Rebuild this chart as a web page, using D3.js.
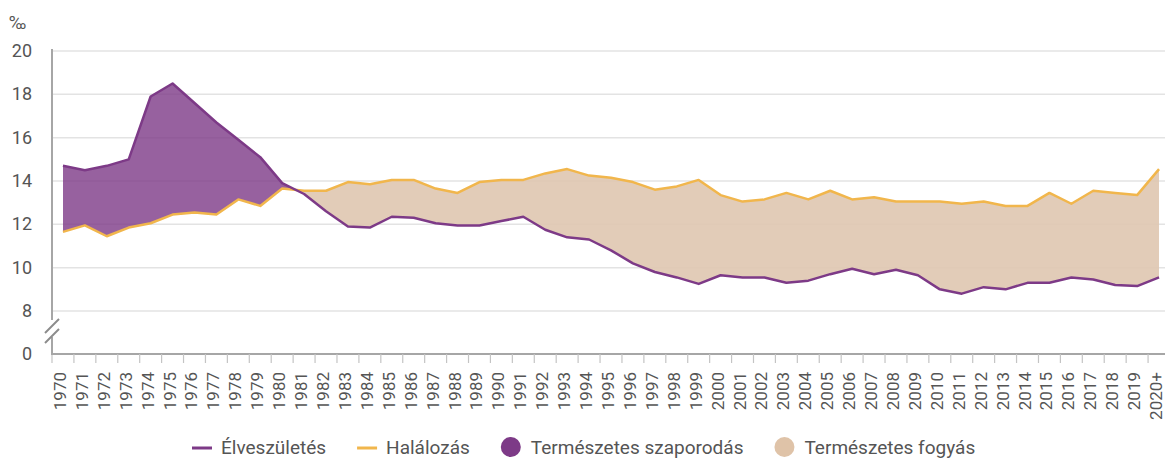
<!DOCTYPE html>
<html>
<head>
<meta charset="utf-8">
<script src="https://cdn.jsdelivr.net/npm/d3@7"></script>
<style>
  body { margin: 0; background: #fff; }
  text { font-family: Roboto, "Noto Sans", sans-serif; fill: #555; }
</style>
</head>
<body>
<svg id="chart" width="1165" height="459"></svg>
<script>
// years and tick labels
var years = d3.range(1970, 2021);
var yearLabels = years.map(function(y) { return y == 2020 ? "2020+" : String(y); });

// per mille values
var births = [14.7, 14.5, 14.7, 15.0, 17.9, 18.5, 17.6, 16.7, 15.9, 15.1,
	13.9, 13.4, 12.6, 11.9, 11.85, 12.35, 12.3, 12.05, 11.95, 11.95,
	12.15, 12.35, 11.75, 11.4, 11.3, 10.8, 10.2, 9.8, 9.55, 9.25,
	9.65, 9.55, 9.55, 9.3, 9.4, 9.7, 9.95, 9.7, 9.9, 9.65,
	9.0, 8.8, 9.1, 9.0, 9.3, 9.3, 9.55, 9.45, 9.2, 9.15,
	9.55];
var deaths = [11.65, 11.95, 11.45, 11.85, 12.05, 12.45, 12.55, 12.45, 13.15, 12.85,
	13.65, 13.55, 13.55, 13.95, 13.85, 14.05, 14.05, 13.65, 13.45, 13.95,
	14.05, 14.05, 14.35, 14.55, 14.25, 14.15, 13.95, 13.6, 13.75, 14.05,
	13.35, 13.05, 13.15, 13.45, 13.15, 13.55, 13.15, 13.25, 13.05, 13.05,
	13.05, 12.95, 13.05, 12.85, 12.85, 13.45, 12.95, 13.55, 13.45, 13.35,
	14.55];
var yTicks = [0, 8, 10, 12, 14, 16, 18, 20];

var legendItems = [
	{ label: "Élveszületés", type: "line", color: "#7d3a87" },
	{ label: "Halálozás", type: "line", color: "#f1b64c" },
	{ label: "Természetes szaporodás", type: "dot", color: "#7d3a87" },
	{ label: "Természetes fogyás", type: "dot", color: "#dfc3a8" }
];

var W = 1165, H = 459;
var svg = d3.select("#chart");

var x = d3.scaleBand().domain(yearLabels).range([52, 1170]);
var xc = function(i) { return x(yearLabels[i]) + x.bandwidth() / 2; };
// broken axis: 0 then jump to 8
var y = d3.scaleLinear().domain([0, 8, 20]).range([354, 311, 51]);

var rows = years.map(function(yr, i) { return { i: i, b: births[i], d: deaths[i] }; });

// grid
svg.append("g").selectAll("line")
	.data(yTicks.filter(function(t) { return t > 0; }))
	.enter().append("line")
	.attr("x1", 52).attr("x2", W)
	.attr("y1", function(d) { return y(d); })
	.attr("y2", function(d) { return y(d); })
	.attr("stroke", "#e3e3e3").attr("stroke-width", 1.5);

// clip regions above / below the deaths line
var defs = svg.append("defs");
defs.append("clipPath").attr("id", "clipAbove").append("path")
	.attr("d", d3.area().x(function(d) { return xc(d.i); }).y0(0).y1(function(d) { return y(d.d); })(rows));
defs.append("clipPath").attr("id", "clipBelow").append("path")
	.attr("d", d3.area().x(function(d) { return xc(d.i); }).y0(H).y1(function(d) { return y(d.d); })(rows));

var band = d3.area()
	.x(function(d) { return xc(d.i); })
	.y0(function(d) { return y(d.d); })
	.y1(function(d) { return y(d.b); });

svg.append("path").attr("d", band(rows))
	.attr("fill", "#dfc7b0").attr("fill-opacity", 0.9)
	.attr("clip-path", "url(#clipBelow)");
svg.append("path").attr("d", band(rows))
	.attr("fill", "#7d3a87").attr("fill-opacity", 0.8)
	.attr("clip-path", "url(#clipAbove)");

// lines
var lineB = d3.line().x(function(d) { return xc(d.i); }).y(function(d) { return y(d.b); });
var lineD = d3.line().x(function(d) { return xc(d.i); }).y(function(d) { return y(d.d); });
svg.append("path").attr("d", lineD(rows)).attr("fill", "none")
	.attr("stroke", "#f1b64c").attr("stroke-width", 2.5).attr("stroke-linejoin", "round");
svg.append("path").attr("d", lineB(rows)).attr("fill", "none")
	.attr("stroke", "#7d3a87").attr("stroke-width", 2.5).attr("stroke-linejoin", "round");

// x axis
var xAxis = svg.append("g").attr("transform", "translate(0,354)");
xAxis.append("line").attr("x1", 52).attr("x2", W).attr("stroke", "#a6a6a6").attr("stroke-width", 2);
xAxis.selectAll("line.tick")
	.data(yearLabels).enter().append("line").attr("class", "tick")
	.attr("x1", function(d) { return x(d); }).attr("x2", function(d) { return x(d); })
	.attr("y1", 0).attr("y2", 9)
	.attr("stroke", "#c4c4c4").attr("stroke-width", 1.2);
xAxis.selectAll("text")
	.data(yearLabels).enter().append("text")
	.attr("transform", function(d) { return "translate(" + (x(d) + x.bandwidth() / 2 + 3) + ",18) rotate(-90)"; })
	.attr("text-anchor", "end")
	.style("font-size", "17px")
	.text(function(d) { return d; });

// y axis with break
var yAxis = svg.append("g");
yAxis.append("line").attr("x1", 52).attr("x2", 52).attr("y1", 49).attr("y2", 320)
	.attr("stroke", "#a6a6a6").attr("stroke-width", 2);
yAxis.append("line").attr("x1", 52).attr("x2", 52).attr("y1", 337).attr("y2", 355)
	.attr("stroke", "#a6a6a6").attr("stroke-width", 2);
[0, 10].forEach(function(off) {
	yAxis.append("line")
		.attr("x1", 45).attr("y1", 333 + off).attr("x2", 59).attr("y2", 319 + off)
		.attr("stroke", "#8c8c8c").attr("stroke-width", 2);
});
yAxis.selectAll("text")
	.data(yTicks).enter().append("text")
	.attr("x", 32).attr("y", function(d) { return y(d) + 6; })
	.attr("text-anchor", "end")
	.style("font-size", "18px")
	.text(function(d) { return d; });
svg.append("text").attr("x", 9).attr("y", 29).style("font-size", "18px").text("‰");

// legend
var legend = svg.append("g").attr("transform", "translate(192,447)");
var lx = 0;
legendItems.forEach(function(it) {
	var g = legend.append("g").attr("transform", "translate(" + lx + ",0)");
	var tx;
	if (it.type == "line") {
		g.append("line").attr("x1", 0).attr("x2", 20).attr("y1", 1).attr("y2", 1)
			.attr("stroke", it.color).attr("stroke-width", 3);
		tx = 29;
	} else {
		g.append("circle").attr("cx", 10).attr("cy", 0).attr("r", 10).attr("fill", it.color);
		tx = 30;
	}
	var t = g.append("text").attr("x", tx).attr("y", 7)
		.style("font-size", "19px").text(it.label);
	lx += tx + t.node().getComputedTextLength() + 31;
});
</script>
</body>
</html>
